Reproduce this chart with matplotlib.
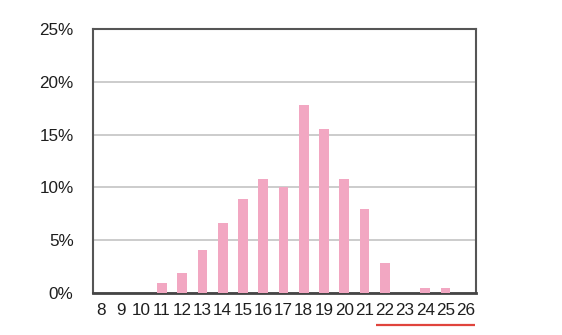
import matplotlib
matplotlib.use("Agg")
import matplotlib.pyplot as plt
import matplotlib.transforms as mtransforms
import numpy as np

categories = [str(v) for v in range(8, 27)]
values = [0, 0, 0, 0.9, 1.9, 4.1, 6.6, 8.9, 10.8, 10.0, 17.8, 15.5, 10.8, 8.0, 2.8, 0, 0.45, 0.45, 0]
y_ticks = [0, 5, 10, 15, 20, 25]
y_labels = ["0%", "5%", "10%", "15%", "20%", "25%"]
underline_from, underline_to = "22", "26"

plt.rcParams['font.family'] = ['Liberation Sans', 'DejaVu Sans']
fig = plt.figure(figsize=(5.62, 3.35), dpi=100)
ax = fig.add_axes([0.1655, 0.1254, 0.847 - 0.1655, 0.9134 - 0.1254])

x = np.arange(len(categories))
ax.bar(x, values, width=0.48, color="#f2a7c2", zorder=3)

ax.set_xlim(-0.4, len(categories) - 0.5)
ax.set_ylim(0, 25)
ax.set_yticks(y_ticks)
ax.set_yticklabels(y_labels, fontsize=12.3, color="#1e1e1e")
ax.set_xticks(x)
ax.set_xticklabels(categories, fontsize=12.3, color="#1e1e1e")
ax.tick_params(axis="both", length=0)
ax.tick_params(axis="y", pad=14)
ax.tick_params(axis="x", pad=7)
ax.grid(axis="y", color="#c8c8c8", linewidth=1.3, zorder=0)
for s in ax.spines.values():
    s.set_color("#555555")
    s.set_linewidth(1.5)
ax.spines["bottom"].set_linewidth(2)
ax.spines["bottom"].set_color("#444444")

i0 = categories.index(underline_from)
i1 = categories.index(underline_to)
trans = mtransforms.blended_transform_factory(ax.transData, ax.transAxes)
ax.plot([i0 - 0.42, i1 + 0.46], [-0.121, -0.121], transform=trans,
        color="#e0443c", linewidth=1.6, clip_on=False, solid_capstyle="butt")

fig.savefig("out.png", dpi=100)
